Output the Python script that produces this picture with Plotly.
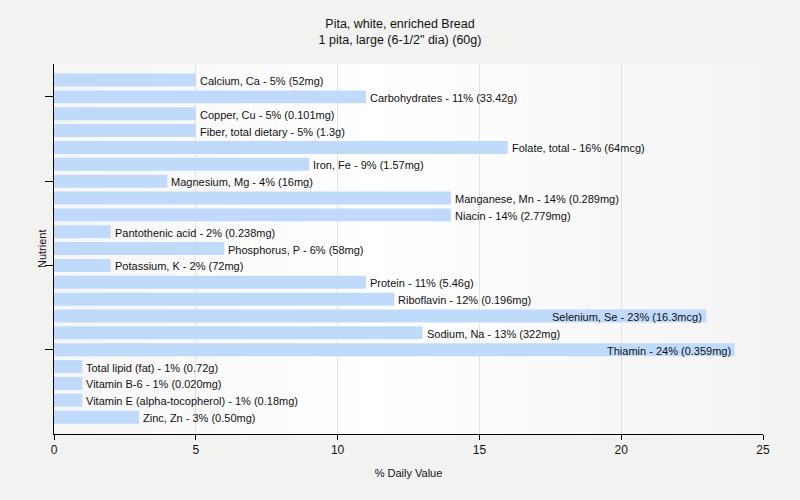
import plotly.graph_objects as go

nutrients = ["Calcium, Ca", "Carbohydrates", "Copper, Cu", "Fiber, total dietary", "Folate, total",
             "Iron, Fe", "Magnesium, Mg", "Manganese, Mn", "Niacin", "Pantothenic acid",
             "Phosphorus, P", "Potassium, K", "Protein", "Riboflavin", "Selenium, Se",
             "Sodium, Na", "Thiamin", "Total lipid (fat)", "Vitamin B-6",
             "Vitamin E (alpha-tocopherol)", "Zinc, Zn"]
daily_value = [5, 11, 5, 5, 16, 9, 4, 14, 14, 2, 6, 2, 11, 12, 23, 13, 24, 1, 1, 1, 3]
amounts = ["52mg", "33.42g", "0.101mg", "1.3g", "64mcg", "1.57mg", "16mg", "0.289mg", "2.779mg",
           "0.238mg", "58mg", "72mg", "5.46g", "0.196mg", "16.3mcg", "322mg", "0.359mg",
           "0.72g", "0.020mg", "0.18mg", "0.50mg"]
x_ticks = [0, 5, 10, 15, 20, 25]
x_max = 25

FONT = "Liberation Sans"
TXT = "#111111"
labels = [f"{n} - {v}% ({a})" for n, v, a in zip(nutrients, daily_value, amounts)]
ypos = list(range(len(nutrients)))

fig = go.Figure()

# gradient plot background (gray - white - gray)
n_strips = 60
for i in range(n_strips):
    t = (i + 0.5) / n_strips
    d = abs(t - 0.45) / 0.55
    g = int(round(255 - 11 * min(d, 1.0)))
    fig.add_shape(type="rect", xref="x domain", yref="y domain",
                  x0=i / n_strips, x1=(i + 1) / n_strips + 0.002, y0=0, y1=1,
                  fillcolor=f"rgb({g},{g},{g})", line_width=0, layer="below")

fig.add_trace(go.Bar(
    x=daily_value, y=ypos, orientation="h", width=0.77,
    marker=dict(color="#c0dafc", line_width=0), hoverinfo="skip",
))

# value labels: outside the bar, or inside at its end when they would overflow the axis
for v, yv, lab in zip(daily_value, ypos, labels):
    inside = v > 20
    fig.add_annotation(x=v, y=yv, xref="x", yref="y", text=lab, showarrow=False,
                       xanchor="right" if inside else "left",
                       xshift=-2 if inside else 2, yshift=-1, yanchor="middle",
                       font=dict(family=FONT, size=11, color=TXT))

fig.add_annotation(x=0, y=0.5, xref="paper", yref="paper", text="Nutrient", showarrow=False,
                   textangle=-90, xanchor="center", yanchor="middle", xshift=-12,
                   font=dict(family=FONT, size=11, color=TXT))

fig.update_layout(
    width=800, height=500,
    margin=dict(l=54, r=37, t=64, b=66),
    paper_bgcolor="#f2f2f1", plot_bgcolor="rgba(0,0,0,0)",
    showlegend=False,
    title=dict(text="Pita, white, enriched Bread<br>1 pita, large (6-1/2\" dia) (60g)",
               x=0.5, xanchor="center", y=0.944, yanchor="top",
               font=dict(family=FONT, size=12.5, color=TXT)),
    font=dict(family=FONT, size=12, color=TXT),
)
fig.update_xaxes(range=[0, x_max], tickvals=x_ticks, showgrid=True, gridcolor="#e2e2e2",
                 gridwidth=1, showline=True, linecolor="#000000", linewidth=1,
                 ticks="outside", ticklen=5, tickcolor="#000000", zeroline=False,
                 tickfont=dict(family=FONT, size=12, color=TXT),
                 title=dict(text="% Daily Value", standoff=12,
                            font=dict(family=FONT, size=11, color=TXT)))
fig.update_yaxes(range=[21.0, -0.95], tickvals=[1, 6, 11, 16], ticktext=["", "", "", ""],
                 showgrid=False, showline=True, linecolor="#000000", linewidth=1,
                 ticks="outside", ticklen=8, tickcolor="#000000", zeroline=False)

fig.write_html("out.html")
